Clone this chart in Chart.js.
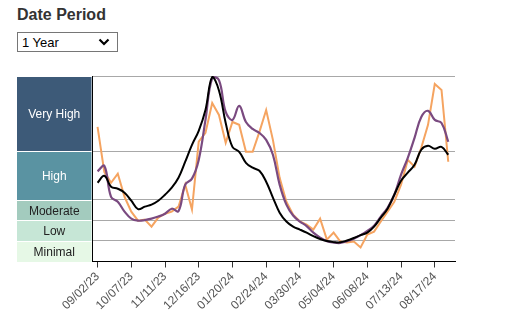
<!DOCTYPE html>
<html>
<head>
<meta charset="utf-8">
<script src="https://cdn.jsdelivr.net/npm/chart.js@4.4.1/dist/chart.umd.min.js"></script>
<style>
  body { margin: 0; background: #fff; }
  #wrap { position: relative; width: 521px; height: 335px; overflow: hidden; }
  #levelChart { position: absolute; left: 0; top: 0; }
  .title { position: absolute; left: 17px; top: 7px; font: bold 16px Arial, "Liberation Sans", sans-serif; line-height: 16px; color: #333; }
  select {
    position: absolute; left: 17px; top: 32px; width: 101px; height: 20px;
    box-sizing: border-box; border: 1px solid #767676; border-radius: 0;
    font: 13px Arial, "Liberation Sans", sans-serif; color: #000; padding: 0 0 0 4px;
    -webkit-appearance: none; appearance: none; background-color: #fff;
    background-image: url("data:image/svg+xml,%3Csvg xmlns='http://www.w3.org/2000/svg' width='12' height='8'%3E%3Cpolyline points='1.5,1.5 6,6 10.5,1.5' fill='none' stroke='black' stroke-width='2.2'/%3E%3C/svg%3E");
    background-repeat: no-repeat; background-position: right 7px center;
    z-index: 2;
  }
</style>
</head>
<body>
<div id="wrap">
  <div class="title">Date Period</div>
  <select><option>1 Year</option></select>
  <canvas id="levelChart" width="521" height="335"></canvas>
</div>
<script>
// Semanas (categorias do eixo x)
const weeks = ['09/02/23', '09/09/23', '09/16/23', '09/23/23', '09/30/23', '10/07/23', '10/14/23', '10/21/23', '10/28/23',
  '11/04/23', '11/11/23', '11/18/23', '11/25/23', '12/02/23', '12/09/23', '12/16/23', '12/23/23', '12/30/23',
  '01/06/24', '01/13/24', '01/20/24', '01/27/24', '02/03/24', '02/10/24', '02/17/24', '02/24/24', '03/02/24',
  '03/09/24', '03/16/24', '03/23/24', '03/30/24', '04/06/24', '04/13/24', '04/20/24', '04/27/24', '05/04/24',
  '05/11/24', '05/18/24', '05/25/24', '06/01/24', '06/08/24', '06/15/24', '06/22/24', '06/29/24', '07/06/24',
  '07/13/24', '07/20/24', '07/27/24', '08/03/24', '08/10/24', '08/17/24', '08/24/24', '08/31/24'];

// Indices das semanas com rótulo
const labelWeeks = [0, 5, 10, 15, 20, 25, 30, 35, 40, 45, 50];

// Séries
const stateLevel = [6.53, 4.35, 3.82, 4.26, 3.14, 2.42, 1.98, 2.03, 1.69, 2.13, 2.32, 2.42, 2.66, 3.73, 2.52, 5.81,
  6.24, 7.69, 7.11, 5.76, 6.77, 6.63, 5.32, 5.32, 6.29, 7.35, 5.9, 4.06, 2.9, 2.27, 1.94, 1.79, 1.55, 2.08, 1.06,
  1.4, 0.97, 0.92, 0.97, 0.68, 1.31, 1.45, 1.94, 2.42, 2.9, 3.73, 4.93, 4.6, 5.52, 6.63, 8.61, 8.32, 4.84];
const regionLevel = [4.37, 4.64, 3.14, 2.9, 2.42, 2.08, 1.98, 2.01, 2.08, 2.18, 2.32, 2.56, 2.44, 3.73, 4.02, 4.93,
  6.87, 8.9, 8.8, 7.26, 6.87, 7.55, 6.77, 6.43, 6.24, 5.9, 5.18, 3.73, 2.76, 2.23, 1.94, 1.72, 1.4, 1.16, 0.99,
  0.92, 0.9, 0.99, 1.11, 1.28, 1.48, 1.74, 2.18, 2.61, 3.24, 4.21, 5.03, 6.0, 7.01, 7.31, 6.87, 6.72, 5.81];
const nationalLevel = [3.82, 4.16, 3.63, 3.53, 3.34, 2.95, 2.54, 2.66, 2.76, 2.95, 3.24, 3.58, 4.06, 4.84, 5.66, 6.34,
  7.35, 8.95, 8.3, 6.72, 5.56, 5.32, 4.79, 4.55, 4.4, 3.87, 3.1, 2.37, 1.94, 1.69, 1.55, 1.4, 1.23, 1.09, 0.99,
  0.94, 0.93, 1.02, 1.14, 1.28, 1.4, 1.69, 2.13, 2.56, 3.24, 3.92, 4.31, 4.69, 5.42, 5.61, 5.47, 5.56, 5.18];

// Faixas de nível (de baixo para cima)
const levelNames = ['Minimal', 'Low', 'Moderate', 'High', 'Very High'];
const levelEdges = [0, 1, 2, 3, 5.35, 9];
const levelColors = ['#e6f8e6', '#c6e6d6', '#a3cbbe', '#5a93a2', '#3d5a78'];
const levelText = ['#222', '#222', '#222', '#fff', '#fff'];

const toPoints = arr => arr.map((v, i) => ({ x: i, y: v }));

// Caixas coloridas à esquerda
const bandsPlugin = {
  id: 'levelBands',
  afterDraw(chart) {
    const { ctx, chartArea, scales: { y } } = chart;
    const x0 = 17, x1 = chartArea.left - 1;
    ctx.save();
    ctx.font = '12px Arial, "Liberation Sans", sans-serif';
    ctx.textAlign = 'center';
    ctx.textBaseline = 'middle';
    levelNames.forEach((name, i) => {
      const top = Math.round(y.getPixelForValue(levelEdges[i + 1])) + 1;
      const bottom = Math.round(y.getPixelForValue(levelEdges[i]));
      ctx.fillStyle = levelColors[i];
      ctx.fillRect(x0, top, x1 - x0, bottom - top);
      ctx.fillStyle = levelText[i];
      ctx.fillText(name, (x0 + x1) / 2, (top + bottom) / 2 + 1);
    });
    ctx.restore();
  }
};

const ctx = document.getElementById('levelChart').getContext('2d');
new Chart(ctx, {
  type: 'line',
  data: {
    datasets: [
      { label: 'National', data: toPoints(nationalLevel), borderColor: '#000', borderWidth: 2, tension: 0.4 },
      { label: 'Region', data: toPoints(regionLevel), borderColor: '#7a4a80', borderWidth: 2.2, tension: 0.4 },
      { label: 'State', data: toPoints(stateLevel), borderColor: '#f5a461', borderWidth: 2, tension: 0 }
    ]
  },
  options: {
    responsive: false,
    animation: false,
    devicePixelRatio: 1,
    layout: { padding: { left: 17, top: 76, right: 66, bottom: 0 } },
    elements: { point: { radius: 0 } },
    plugins: { legend: { display: false }, tooltip: { enabled: false } },
    scales: {
      x: {
        type: 'linear',
        min: -0.75,
        max: 53,
        afterBuildTicks: s => { s.ticks = labelWeeks.map(v => ({ value: v })); },
        afterFit: s => { s.height = 73.5; },
        ticks: {
          autoSkip: false, minRotation: 45, maxRotation: 45, padding: 2,
          color: '#555', font: { family: 'Arial, "Liberation Sans", sans-serif', size: 12 },
          callback: v => weeks[v]
        },
        grid: { drawOnChartArea: false, drawTicks: true, tickLength: 6, tickColor: '#333' },
        border: { color: '#000', width: 1 }
      },
      y: {
        min: 0,
        max: 9,
        afterBuildTicks: s => { s.ticks = levelEdges.map(v => ({ value: v })); },
        afterFit: s => { s.width = 75.5; },
        ticks: { display: false },
        grid: { color: '#a8a8a8', drawTicks: false },
        border: { color: '#000', width: 1 }
      }
    }
  },
  plugins: [bandsPlugin]
});
</script>
</body>
</html>
